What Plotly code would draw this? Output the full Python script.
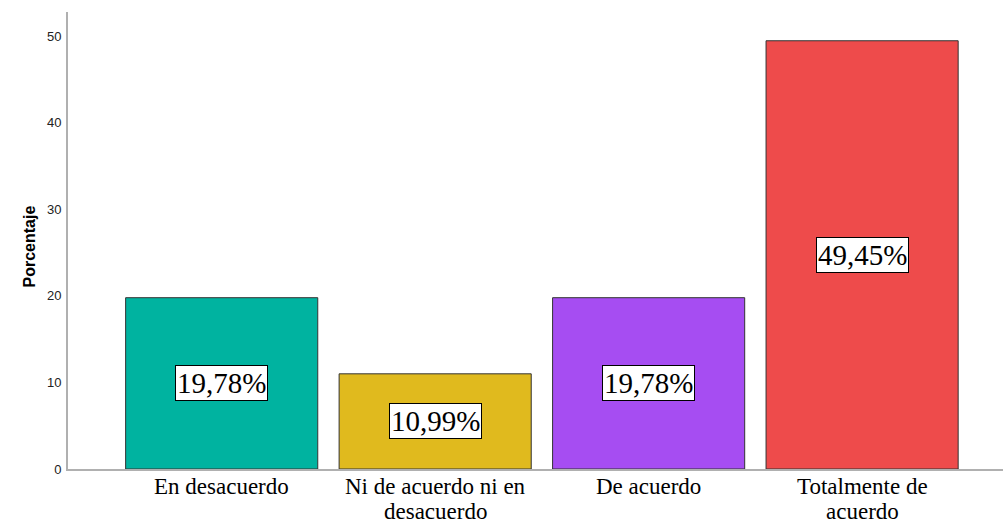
import plotly.graph_objects as go

categories = ["En desacuerdo", "Ni de acuerdo ni en desacuerdo", "De acuerdo", "Totalmente de acuerdo"]
# display lines for each category label
label_lines = [["En desacuerdo"], ["Ni de acuerdo ni en", "desacuerdo"], ["De acuerdo"], ["Totalmente de", "acuerdo"]]
percent = [19.78, 10.99, 19.78, 49.45]
colors = ["#00B3A0", "#E0BA1E", "#A64DF2", "#EE4B4B"]
y_ticks = [0, 10, 20, 30, 40, 50]

serif = "Liberation Serif, Times New Roman, serif"
sans = "Liberation Sans, Arial, sans-serif"

fig = go.Figure()
fig.add_trace(go.Bar(
    x=categories,
    y=percent,
    marker=dict(color=colors, line=dict(color="#333333", width=1)),
    width=0.9,
    hoverinfo="skip",
))

annotations = []
for cat, val in zip(categories, percent):
    annotations.append(dict(
        x=cat, y=val / 2, xref="x", yref="y",
        text=f"{val:.2f}%".replace(".", ","),
        showarrow=False,
        font=dict(family=serif, size=29, color="#000000"),
        bgcolor="#FFFFFF", bordercolor="#000000", borderwidth=1, borderpad=1,
    ))
for cat, lines in zip(categories, label_lines):
    for i, line in enumerate(lines):
        annotations.append(dict(
            x=cat, y=0, xref="x", yref="paper",
            yanchor="top", yshift=-3 - 25 * i,
            text=line, showarrow=False,
            font=dict(family=serif, size=23, color="#000000"),
        ))
# rotated y-axis title, placed in paper coordinates
annotations.append(dict(
    x=(18 - 68) / 935, y=(469 - 247) / 457, xref="paper", yref="paper",
    text="<b>Porcentaje</b>", showarrow=False, textangle=-90,
    font=dict(family=sans, size=16, color="#000000"),
))

fig.update_layout(
    width=1003, height=524,
    margin=dict(l=68, r=0, t=12, b=55),
    paper_bgcolor="#FFFFFF", plot_bgcolor="#FFFFFF",
    showlegend=False,
    annotations=annotations,
    bargap=0.1,
)
fig.update_xaxes(
    range=[-0.72, 3.66],
    showticklabels=False, ticks="",
    showline=True, linecolor="#B0B0B0", linewidth=2,
    showgrid=False, zeroline=False,
)
fig.update_yaxes(
    range=[0, 52.77],
    tickvals=y_ticks,
    ticks="outside", ticklen=2, tickcolor="rgba(0,0,0,0)",
    tickfont=dict(family=sans, size=13, color="#222222"),
    showline=True, linecolor="#B0B0B0", linewidth=2,
    showgrid=False, zeroline=False,
)

fig.write_html("out.html")
